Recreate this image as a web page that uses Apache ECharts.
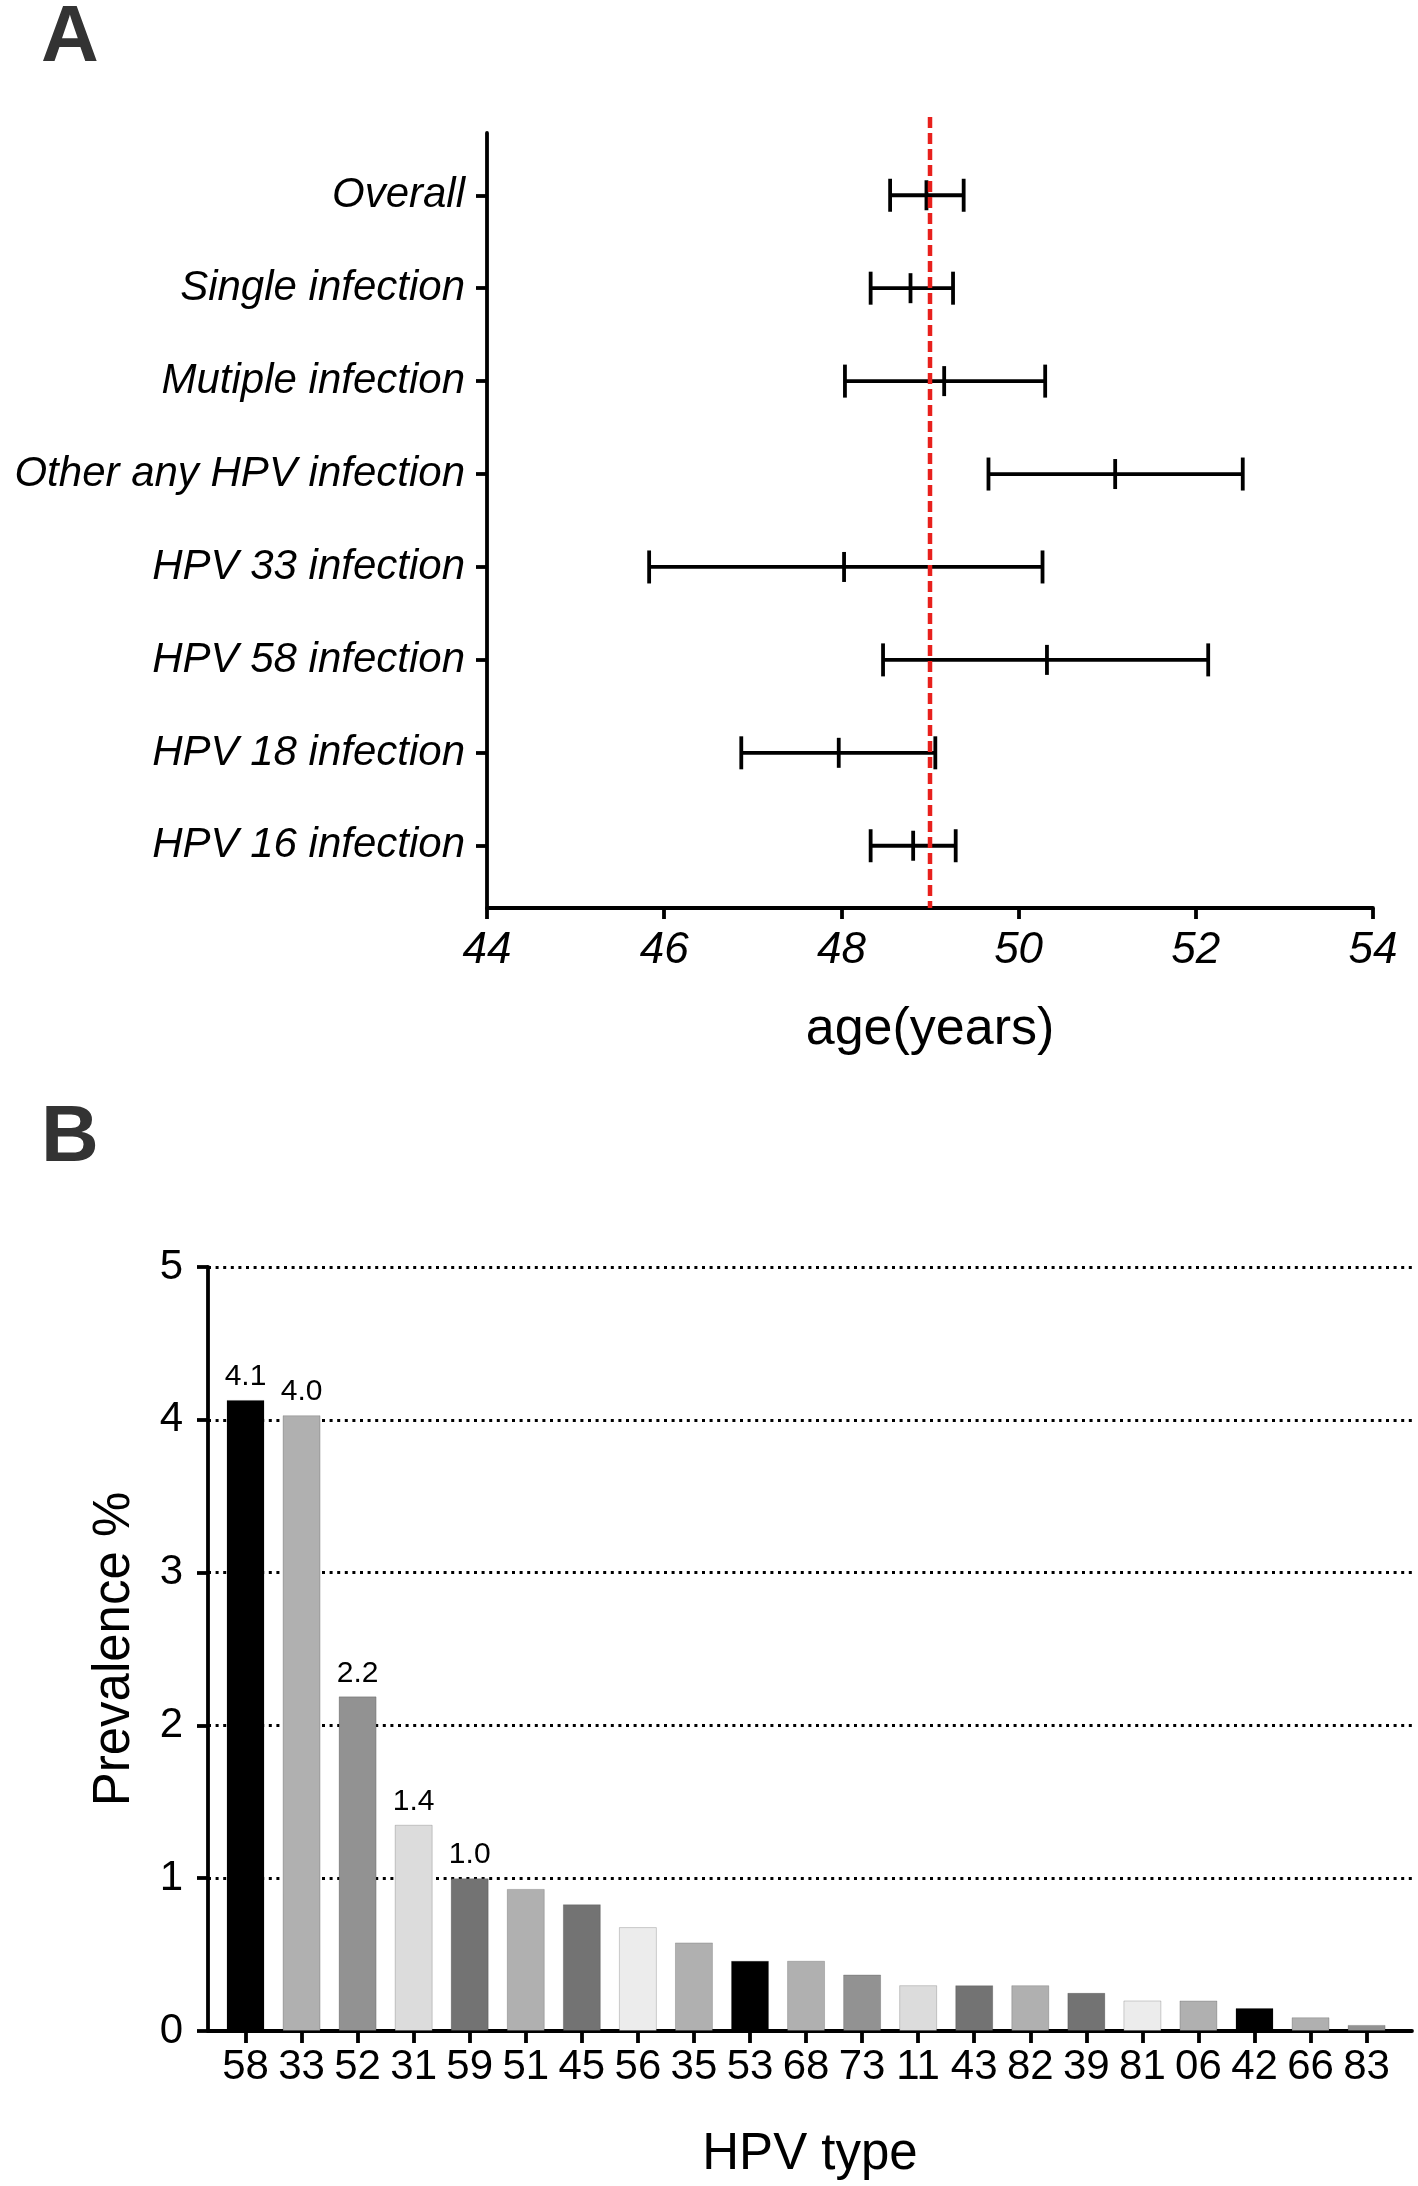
<!DOCTYPE html>
<html>
<head>
<meta charset="utf-8">
<script src="https://cdn.jsdelivr.net/npm/echarts@6/dist/echarts.min.js"></script>
<style>
  html, body { margin: 0; padding: 0; background: #fff; }
  #main { width: 1418px; height: 2186px; }
</style>
</head>
<body>
<div id="main"></div>
<script>
// panel A: mean age with 95% CI per group (top to bottom)
var groups = ['Overall', 'Single infection', 'Mutiple infection', 'Other any HPV infection',
    'HPV 33 infection', 'HPV 58 infection', 'HPV 18 infection', 'HPV 16 infection'];
var ageLow  = [48.55, 48.33, 48.04, 49.66, 45.83, 48.47, 46.87, 48.33];
var ageMean = [48.96, 48.78, 49.16, 51.09, 48.03, 50.32, 47.97, 48.81];
var ageHigh = [49.38, 49.26, 50.30, 52.53, 50.27, 52.14, 49.06, 49.29];
var refAge = 49.0;

// panel B: prevalence by HPV type
var hpvTypes = ['58', '33', '52', '31', '59', '51', '45', '56', '35', '53', '68',
    '73', '11', '43', '82', '39', '81', '06', '42', '66', '83'];
var prevalence = [4.13, 4.03, 2.19, 1.35, 1.00, 0.93, 0.83, 0.68, 0.58, 0.46, 0.46,
    0.37, 0.30, 0.30, 0.30, 0.25, 0.20, 0.20, 0.15, 0.09, 0.04];
var barLabels = ['4.1', '4.0', '2.2', '1.4', '1.0'];
var barColors = ['#000000', '#b0b0b0', '#929292', '#dcdcdc', '#737373', '#b0b0b0', '#737373',
    '#ececec', '#b0b0b0', '#000000', '#b0b0b0', '#929292', '#dcdcdc', '#737373', '#b0b0b0',
    '#737373', '#ececec', '#b0b0b0', '#000000', '#b0b0b0', '#929292'];

var FONT = '"Liberation Sans", Arial, Helvetica, sans-serif';
var AX = 3.8;
var yMinA = -0.67, yMaxA = 7.67;

var idxA = groups.map(function (g, i) { return i; });
var idxB = hpvTypes.map(function (t, i) { return i; });

var errData = groups.map(function (g, i) {
    return [ageLow[i], ageMean[i], ageHigh[i], i];
});

var barData = prevalence.map(function (v, i) {
    var item = {
        value: [i, v],
        itemStyle: { color: barColors[i] }
    };
    if (i < barLabels.length) {
        item.label = { show: true, formatter: barLabels[i] };
    }
    return item;
});

var axisLine = { show: true, onZero: false, lineStyle: { color: '#000', width: AX } };

var myChart = echarts.init(document.getElementById('main'), null, { renderer: 'canvas' });

myChart.setOption({
    backgroundColor: '#fff',
    animation: false,
    textStyle: { fontFamily: FONT },
    title: [
        { text: 'A', left: 36, top: -6, textStyle: { fontSize: 80, fontWeight: 'bold', color: '#333', fontFamily: FONT } },
        { text: 'B', left: 36, top: 1094, textStyle: { fontSize: 80, fontWeight: 'bold', color: '#333', fontFamily: FONT } }
    ],
    grid: [
        { left: 487, top: 133, width: 886, height: 775 },
        { left: 208, top: 1267, right: 6, height: 764 }
    ],
    xAxis: [
        {
            gridIndex: 0, type: 'value', min: 44, max: 54, interval: 2,
            axisLine: axisLine,
            axisTick: { show: true, length: 11, lineStyle: { color: '#000', width: AX } },
            axisLabel: { fontSize: 44, fontStyle: 'italic', color: '#000', margin: 21, fontFamily: FONT },
            splitLine: { show: false },
            name: 'age(years)', nameLocation: 'middle', nameGap: 96,
            nameTextStyle: { fontSize: 52, color: '#000', fontFamily: FONT }
        },
        {
            gridIndex: 1, type: 'value', min: -0.669, max: 20.81,
            axisLine: axisLine,
            axisTick: { show: true, length: 12, customValues: idxB, lineStyle: { color: '#000', width: AX } },
            axisLabel: {
                fontSize: 42, color: '#000', margin: 15, fontFamily: FONT,
                customValues: idxB,
                formatter: function (v) { return hpvTypes[Math.round(v)]; }
            },
            splitLine: { show: false },
            name: 'HPV type', nameLocation: 'middle', nameGap: 98,
            nameTextStyle: { fontSize: 51, color: '#000', fontFamily: FONT }
        }
    ],
    yAxis: [
        {
            gridIndex: 0, type: 'value', inverse: true, min: yMinA, max: yMaxA,
            axisLine: axisLine,
            axisTick: { show: true, length: 11, customValues: idxA, lineStyle: { color: '#000', width: AX } },
            axisLabel: {
                fontSize: 42, fontStyle: 'italic', color: '#000', margin: 22, fontFamily: FONT,
                customValues: idxA,
                formatter: function (v) { return groups[Math.round(v)]; }
            },
            splitLine: { show: false }
        },
        {
            gridIndex: 1, type: 'value', min: 0, max: 5, interval: 1,
            axisLine: axisLine,
            axisTick: { show: true, length: 11, lineStyle: { color: '#000', width: AX } },
            axisLabel: { fontSize: 42, color: '#000', margin: 25, fontFamily: FONT },
            splitLine: { show: true, lineStyle: { color: '#000', width: 3, type: [3, 4.6] } },
            name: 'Prevalence %', nameLocation: 'middle', nameGap: 68,
            nameTextStyle: { fontSize: 51, color: '#000', fontFamily: FONT }
        }
    ],
    series: [
        {
            type: 'custom',
            xAxisIndex: 0, yAxisIndex: 0,
            data: errData,
            z: 3,
            renderItem: function (params, api) {
                var y = api.value(3);
                var pL = api.coord([api.value(0), y]);
                var pM = api.coord([api.value(1), y]);
                var pH = api.coord([api.value(2), y]);
                var st = { stroke: '#000', lineWidth: AX };
                return {
                    type: 'group',
                    children: [
                        { type: 'line', shape: { x1: pL[0], y1: pL[1], x2: pH[0], y2: pH[1] }, style: st },
                        { type: 'line', shape: { x1: pL[0], y1: pL[1] - 16.5, x2: pL[0], y2: pL[1] + 16.5 }, style: st },
                        { type: 'line', shape: { x1: pH[0], y1: pH[1] - 16.5, x2: pH[0], y2: pH[1] + 16.5 }, style: st },
                        { type: 'line', shape: { x1: pM[0], y1: pM[1] - 15, x2: pM[0], y2: pM[1] + 15 }, style: st }
                    ]
                };
            }
        },
        {
            type: 'custom',
            xAxisIndex: 0, yAxisIndex: 0,
            data: [[refAge]],
            z: 5,
            clip: false,
            renderItem: function (params, api) {
                var pTop = api.coord([api.value(0), yMinA]);
                var pBot = api.coord([api.value(0), yMaxA]);
                return {
                    type: 'line',
                    shape: { x1: pTop[0], y1: pTop[1] - 16, x2: pBot[0], y2: pBot[1] },
                    style: { stroke: '#e8201c', lineWidth: 4.5, lineDash: [11, 5] }
                };
            }
        },
        {
            type: 'bar',
            xAxisIndex: 1, yAxisIndex: 1,
            barWidth: 38,
            data: barData,
            itemStyle: { borderColor: 'rgba(0,0,0,0.18)', borderWidth: 1 },
            label: {
                show: false, position: 'top', distance: 8,
                fontSize: 30, color: '#000', fontFamily: FONT
            }
        }
    ]
});

window.addEventListener('resize', function () {
    myChart.resize();
});
</script>
</body>
</html>
